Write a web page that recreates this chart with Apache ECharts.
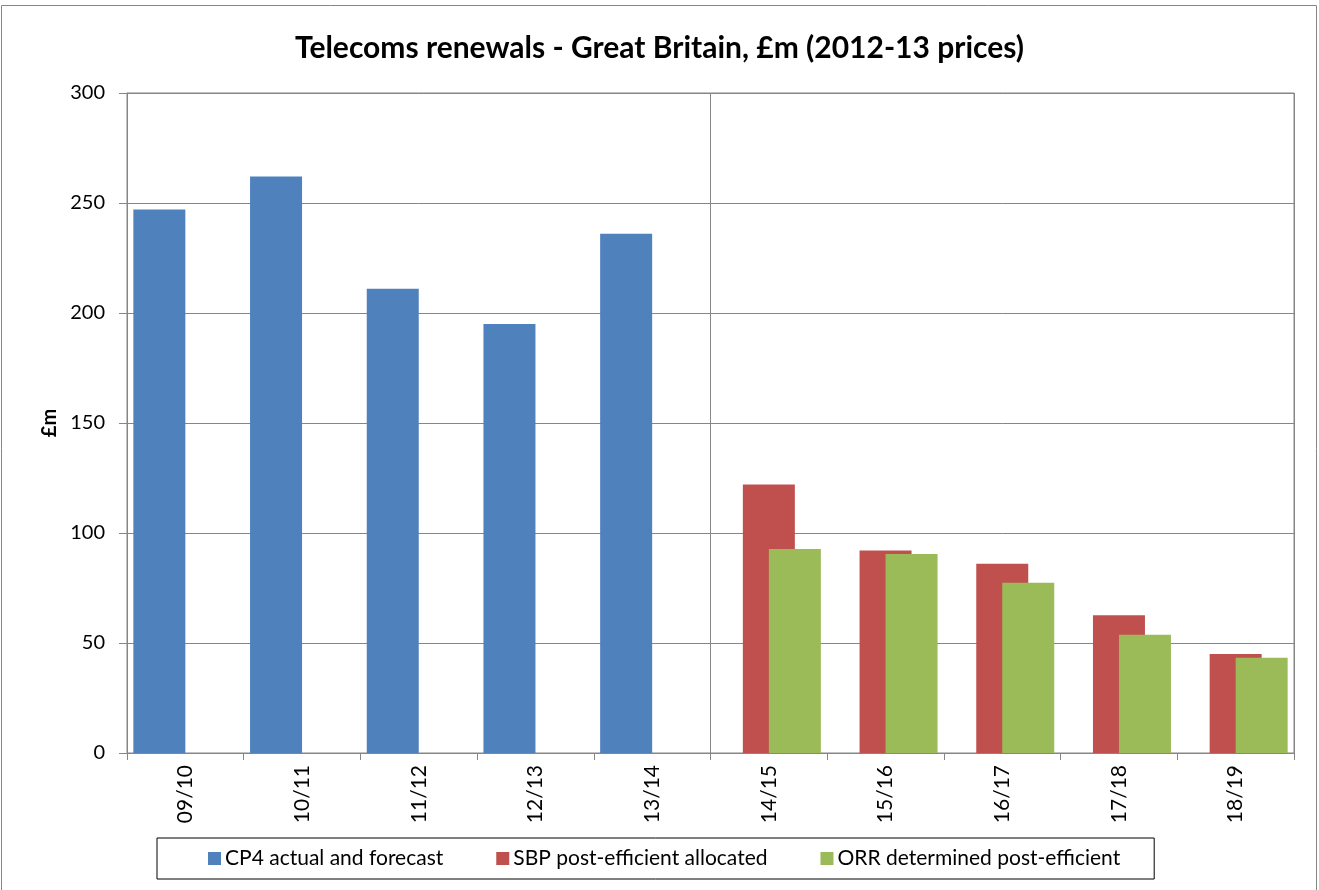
<!DOCTYPE html>
<html>
<head>
<meta charset="utf-8">
<title>Telecoms renewals - Great Britain</title>
<script src="https://cdn.jsdelivr.net/npm/echarts@6/dist/echarts.min.js"></script>
<style>
  html, body { margin: 0; padding: 0; background: #ffffff; }
  #chart { width: 1319px; height: 890px; }
</style>
</head>
<body>
<div id="chart"></div>
<script>
// Financial years shown along the category axis
const categories = ['09/10', '10/11', '11/12', '12/13', '13/14', '14/15', '15/16', '16/17', '17/18', '18/19'];

// £m, 2012-13 prices
const cp4Actual = [247, 262, 211, 195, 236, null, null, null, null, null];
const sbpAllocated = [null, null, null, null, null, 122, 92, 86, 62.6, 45];
const orrDetermined = [null, null, null, null, null, 92.7, 90.5, 77.4, 53.8, 43.3];

const yTicks = { min: 0, max: 300, interval: 50 };

const seriesNames = ['CP4 actual and forecast', 'SBP post-efficient allocated', 'ORR determined post-efficient'];
const seriesColors = ['#4F81BD', '#C0504D', '#9BBB59'];

const FONT = 'Lato, "Open Sans", sans-serif';
const AXIS_GREY = '#868686';

const chart = echarts.init(document.getElementById('chart'), null, { renderer: 'canvas' });

function barSeries(name, data, color) {
  return {
    name: name,
    type: 'bar',
    data: data,
    barWidth: 52,
    barGap: '-50%',
    itemStyle: { color: color },
    emphasis: { disabled: true },
    animation: false
  };
}

chart.setOption({
  animation: false,
  textStyle: { fontFamily: FONT },
  title: {
    text: 'Telecoms renewals - Great Britain, £m (2012-13 prices)',
    left: 'center',
    top: 28,
    textStyle: { fontFamily: FONT, fontSize: 30, fontWeight: 'bold', color: '#000' }
  },
  graphic: [{
    type: 'rect',
    shape: { x: 1.5, y: 5.5, width: 1315, height: 900 },
    style: { fill: 'none', stroke: AXIS_GREY, lineWidth: 1 },
    silent: true
  }],
  grid: {
    left: 127, right: 25, top: 93, bottom: 137,
    show: true, borderColor: AXIS_GREY, borderWidth: 1, backgroundColor: 'transparent'
  },
  legend: {
    data: seriesNames,
    left: 157,
    top: 838,
    width: 1000,
    padding: [10, 34, 10, 51],
    itemGap: 53,
    itemWidth: 13,
    itemHeight: 13,
    borderColor: '#000',
    borderWidth: 1,
    icon: 'rect',
    textStyle: { fontFamily: FONT, fontSize: 21, color: '#000', padding: [0, 0, 0, -1] }
  },
  xAxis: [{
    type: 'category',
    data: categories,
    boundaryGap: true,
    axisLine: { lineStyle: { color: AXIS_GREY } },
    axisTick: { show: true, length: 7, lineStyle: { color: AXIS_GREY }, alignWithLabel: false },
    axisLabel: { rotate: 90, fontFamily: FONT, fontSize: 21, color: '#000', margin: 12, interval: 0 },
    splitLine: { show: false }
  }, {
    // hidden helper axis: its split line marks the boundary between the two periods
    type: 'value',
    min: 0,
    max: 10,
    interval: 5,
    position: 'bottom',
    axisLine: { show: false },
    axisTick: { show: false },
    axisLabel: { show: false },
    splitLine: { show: true, lineStyle: { color: AXIS_GREY } }
  }],
  yAxis: {
    type: 'value',
    min: yTicks.min,
    max: yTicks.max,
    interval: yTicks.interval,
    name: '£m',
    nameLocation: 'middle',
    nameGap: 65,
    nameRotate: 90,
    nameTextStyle: { fontFamily: FONT, fontSize: 20, fontWeight: 'bold', color: '#000' },
    axisLine: { show: true, lineStyle: { color: AXIS_GREY } },
    axisTick: { show: true, length: 8, lineStyle: { color: AXIS_GREY } },
    axisLabel: { fontFamily: FONT, fontSize: 20, color: '#000', margin: 22 },
    splitLine: { show: true, lineStyle: { color: AXIS_GREY } }
  },
  series: [
    barSeries(seriesNames[0], cp4Actual, seriesColors[0]),
    barSeries(seriesNames[1], sbpAllocated, seriesColors[1]),
    barSeries(seriesNames[2], orrDetermined, seriesColors[2])
  ]
});
</script>
</body>
</html>
